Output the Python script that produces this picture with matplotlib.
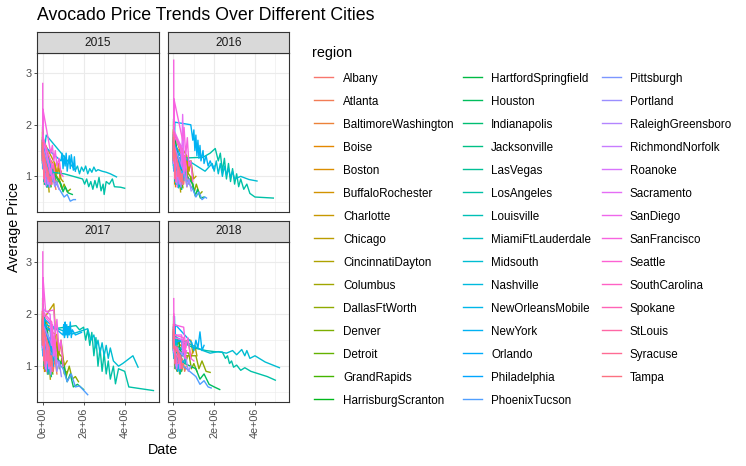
import numpy as np
import matplotlib
matplotlib.use("Agg")
import matplotlib.pyplot as plt
from matplotlib.lines import Line2D

plt.rcParams['font.family'] = ['Liberation Sans', 'DejaVu Sans']

regions = ["Albany", "Atlanta", "BaltimoreWashington", "Boise", "Boston",
           "BuffaloRochester", "Charlotte", "Chicago", "CincinnatiDayton",
           "Columbus", "DallasFtWorth", "Denver", "Detroit", "GrandRapids",
           "HarrisburgScranton", "HartfordSpringfield", "Houston", "Indianapolis",
           "Jacksonville", "LasVegas", "LosAngeles", "Louisville",
           "MiamiFtLauderdale", "Midsouth", "Nashville", "NewOrleansMobile",
           "NewYork", "Orlando", "Philadelphia", "PhoenixTucson", "Pittsburgh",
           "Portland", "RaleighGreensboro", "RichmondNorfolk", "Roanoke",
           "Sacramento", "SanDiego", "SanFrancisco", "Seattle", "SouthCarolina",
           "Spokane", "StLouis", "Syracuse", "Tampa"]
years = ["2015", "2016", "2017", "2018"]

# (volume in millions, average price), per region and year
points_2015 = {
    "Albany": [(0.002, 1.75), (0.003, 1.45), (0.004, 1.65), (0.07, 1.15), (0.08, 1.0), (0.09, 1.2), (0.11, 0.95)],
    "Atlanta": [(0.005, 1.95), (0.008, 1.55), (0.012, 1.7), (0.38, 1.0), (0.45, 0.85), (0.5, 1.05), (0.58, 0.9), (0.65, 0.75)],
    "BaltimoreWashington": [(0.01, 1.6), (0.015, 1.3), (0.02, 1.5), (0.62, 1.2), (0.7, 1.05), (0.78, 1.25), (0.85, 0.95), (0.92, 1.1)],
    "Boise": [(0.001, 1.85), (0.002, 1.4), (0.003, 1.7), (0.06, 1.05), (0.07, 0.9), (0.08, 1.1), (0.09, 0.85)],
    "Boston": [(0.006, 1.9), (0.009, 1.55), (0.012, 1.75), (0.45, 1.2), (0.52, 1.05), (0.58, 1.25), (0.66, 1.0)],
    "BuffaloRochester": [(0.003, 1.65), (0.004, 1.35), (0.005, 1.5), (0.1, 1.2), (0.12, 1.05), (0.14, 1.15), (0.16, 1.0)],
    "Charlotte": [(0.004, 1.75), (0.006, 1.5), (0.008, 1.65), (0.14, 1.15), (0.17, 1.0), (0.2, 1.2), (0.23, 0.95)],
    "Chicago": [(0.02, 1.85), (0.025, 1.5), (0.03, 1.7), (0.6, 1.25), (0.7, 1.05), (0.8, 1.15), (0.9, 0.95), (1.0, 0.9)],
    "CincinnatiDayton": [(0.008, 1.55), (0.012, 1.2), (0.015, 1.4), (0.2, 0.95), (0.24, 0.8), (0.28, 0.9), (0.32, 0.7)],
    "Columbus": [(0.004, 1.5), (0.006, 1.25), (0.008, 1.35), (0.12, 1.0), (0.15, 0.85), (0.18, 0.95), (0.2, 0.8)],
    "DallasFtWorth": [(0.01, 1.6), (0.015, 1.3), (0.02, 1.45), (0.85, 0.9), (0.95, 0.75), (1.05, 0.85), (1.2, 0.7), (1.35, 0.75)],
    "Denver": [(0.02, 1.55), (0.03, 1.25), (0.04, 1.4), (0.6, 1.0), (0.7, 0.85), (0.8, 0.95), (0.9, 0.8)],
    "Detroit": [(0.01, 1.45), (0.015, 1.2), (0.02, 1.35), (0.27, 1.0), (0.32, 0.85), (0.37, 0.95), (0.42, 0.8)],
    "GrandRapids": [(0.003, 1.6), (0.005, 1.3), (0.007, 1.5), (0.13, 1.05), (0.16, 0.9), (0.19, 1.0), (0.22, 0.85)],
    "HarrisburgScranton": [(0.005, 1.55), (0.008, 1.3), (0.01, 1.45), (0.19, 1.1), (0.23, 0.95), (0.27, 1.05), (0.3, 0.9)],
    "HartfordSpringfield": [(0.004, 1.95), (0.006, 1.6), (0.008, 1.8), (0.22, 1.25), (0.27, 1.1), (0.31, 1.2), (0.35, 1.05)],
    "Houston": [(0.01, 1.5), (0.015, 1.2), (0.02, 1.35), (0.9, 0.85), (1.0, 0.7), (1.1, 0.8), (1.25, 0.68), (1.45, 0.65)],
    "Indianapolis": [(0.004, 1.4), (0.006, 1.15), (0.008, 1.3), (0.13, 1.0), (0.16, 0.85), (0.19, 0.95), (0.21, 0.8)],
    "Jacksonville": [(0.003, 1.7), (0.005, 1.4), (0.007, 1.55), (0.12, 1.1), (0.15, 0.95), (0.18, 1.05), (0.2, 0.9)],
    "LasVegas": [(0.005, 1.6), (0.008, 1.3), (0.011, 1.45), (0.22, 1.0), (0.27, 0.85), (0.32, 0.95), (0.37, 0.8)],
    "LosAngeles": [(0.03, 1.5), (0.05, 1.2), (0.07, 1.4), (0.1, 1.1), (1.05, 1.05), (1.95, 0.95), (2.05, 0.85),
                   (2.15, 0.95), (2.25, 0.8), (2.35, 0.9), (2.45, 0.75), (2.55, 0.92), (2.65, 0.78), (2.75, 0.98),
                   (2.85, 0.72), (2.95, 0.85), (3.0, 0.65), (3.1, 0.9), (3.25, 0.85), (3.4, 0.95), (3.5, 0.8),
                   (3.8, 0.79), (4.0, 0.77)],
    "Louisville": [(0.002, 1.5), (0.003, 1.25), (0.004, 1.4), (0.07, 1.05), (0.08, 0.9), (0.09, 1.0), (0.1, 0.85)],
    "MiamiFtLauderdale": [(0.008, 1.7), (0.012, 1.4), (0.016, 1.55), (0.4, 1.15), (0.46, 1.0), (0.52, 1.1), (0.6, 0.95)],
    "Midsouth": [(0.03, 1.6), (0.06, 1.4), (0.1, 1.55), (0.18, 1.8), (1.6, 1.12), (1.7, 1.2), (1.8, 1.05),
                 (1.9, 1.18), (2.0, 1.1), (2.1, 1.2), (2.2, 1.05), (2.3, 1.15), (2.4, 1.08), (2.5, 1.18),
                 (2.6, 1.1), (2.7, 1.13), (2.9, 1.1), (3.1, 1.08), (3.3, 1.05), (3.6, 0.99)],
    "Nashville": [(0.003, 1.6), (0.005, 1.35), (0.007, 1.5), (0.14, 1.0), (0.17, 0.85), (0.2, 0.95), (0.23, 0.8)],
    "NewOrleansMobile": [(0.004, 1.55), (0.006, 1.3), (0.008, 1.45), (0.2, 1.0), (0.24, 0.85), (0.28, 0.95), (0.32, 0.8)],
    "NewYork": [(0.02, 1.7), (0.03, 1.45), (0.04, 1.6), (0.9, 1.3), (0.95, 1.45), (1.0, 1.15), (1.05, 1.4),
                (1.1, 1.2), (1.15, 1.45), (1.2, 1.1), (1.3, 1.4), (1.35, 1.15), (1.4, 1.42), (1.5, 1.12),
                (1.55, 1.38), (1.6, 1.1)],
    "Orlando": [(0.005, 1.7), (0.008, 1.45), (0.011, 1.6), (0.3, 1.1), (0.35, 0.95), (0.4, 1.05), (0.46, 0.9)],
    "Philadelphia": [(0.008, 1.75), (0.012, 1.45), (0.016, 1.6), (0.32, 1.3), (0.37, 1.15), (0.42, 1.25), (0.47, 1.1)],
    "PhoenixTucson": [(0.01, 1.4), (0.02, 1.15), (0.03, 1.3), (0.9, 0.7), (1.05, 0.6), (1.2, 0.65), (1.35, 0.52), (1.5, 0.55), (1.6, 0.55)],
    "Pittsburgh": [(0.002, 1.55), (0.003, 1.25), (0.004, 1.4), (0.09, 1.1), (0.11, 0.95), (0.13, 1.05), (0.15, 0.9)],
    "Portland": [(0.01, 1.7), (0.015, 1.4), (0.02, 1.55), (0.5, 0.95), (0.6, 0.8), (0.7, 0.9), (0.8, 0.75)],
    "RaleighGreensboro": [(0.005, 1.65), (0.008, 1.35), (0.01, 1.5), (0.2, 1.1), (0.24, 0.95), (0.28, 1.05), (0.32, 0.9)],
    "RichmondNorfolk": [(0.004, 1.6), (0.006, 1.3), (0.008, 1.45), (0.22, 1.0), (0.26, 0.85), (0.3, 0.95), (0.34, 0.8)],
    "Roanoke": [(0.002, 1.55), (0.003, 1.3), (0.004, 1.45), (0.11, 1.0), (0.13, 0.88), (0.15, 0.95), (0.17, 0.82)],
    "Sacramento": [(0.008, 1.95), (0.012, 1.6), (0.016, 1.8), (0.32, 1.2), (0.37, 1.05), (0.42, 1.15), (0.47, 1.0)],
    "SanDiego": [(0.01, 1.85), (0.015, 1.5), (0.02, 1.7), (0.4, 1.1), (0.47, 0.95), (0.54, 1.05), (0.6, 0.9)],
    "SanFrancisco": [(0.01, 2.8), (0.015, 1.9), (0.02, 2.3), (0.4, 1.45), (0.48, 1.6), (0.55, 1.3), (0.62, 1.5),
                     (0.7, 1.2), (0.8, 1.35), (0.9, 1.05), (1.0, 1.0)],
    "Seattle": [(0.01, 1.9), (0.015, 1.55), (0.02, 1.75), (0.4, 1.3), (0.46, 1.15), (0.52, 1.25), (0.58, 1.1)],
    "SouthCarolina": [(0.005, 1.7), (0.008, 1.4), (0.011, 1.55), (0.26, 1.0), (0.3, 0.9), (0.35, 0.98), (0.4, 0.85)],
    "Spokane": [(0.001, 1.7), (0.002, 1.4), (0.003, 1.55), (0.07, 1.1), (0.08, 0.95), (0.09, 1.05), (0.1, 0.9)],
    "StLouis": [(0.004, 1.65), (0.006, 1.35), (0.008, 1.5), (0.17, 1.15), (0.2, 1.0), (0.23, 1.1), (0.26, 0.95)],
    "Syracuse": [(0.001, 1.55), (0.002, 1.3), (0.003, 1.45), (0.06, 1.15), (0.07, 1.0), (0.08, 1.1), (0.09, 0.95)],
    "Tampa": [(0.005, 1.65), (0.008, 1.35), (0.011, 1.5), (0.3, 1.05), (0.35, 0.9), (0.4, 1.0), (0.45, 0.85)],
}

points_2016 = {
    "Albany": [(0.003, 1.9), (0.004, 1.5), (0.005, 1.75), (0.08, 1.35), (0.09, 1.1), (0.1, 1.25), (0.12, 1.0)],
    "Atlanta": [(0.006, 2.0), (0.009, 1.45), (0.013, 1.8), (0.42, 1.05), (0.5, 0.85), (0.56, 1.1), (0.66, 0.8)],
    "BaltimoreWashington": [(0.012, 1.75), (0.017, 1.35), (0.022, 1.6), (0.66, 1.35), (0.75, 1.1), (0.84, 1.3), (0.95, 1.0)],
    "Boise": [(0.001, 1.9), (0.002, 1.35), (0.003, 1.65), (0.065, 1.1), (0.075, 0.85), (0.085, 1.05), (0.1, 0.8)],
    "Boston": [(0.007, 2.05), (0.01, 1.6), (0.014, 1.85), (0.5, 1.3), (0.57, 1.1), (0.64, 1.35), (0.72, 1.05)],
    "BuffaloRochester": [(0.003, 1.7), (0.005, 1.3), (0.006, 1.55), (0.11, 1.25), (0.13, 1.05), (0.15, 1.2), (0.17, 1.0)],
    "Charlotte": [(0.005, 1.85), (0.007, 1.45), (0.009, 1.7), (0.16, 1.25), (0.19, 1.0), (0.22, 1.2), (0.25, 0.95)],
    "Chicago": [(0.022, 2.0), (0.028, 1.55), (0.034, 1.8), (0.65, 1.4), (0.76, 1.1), (0.86, 1.3), (0.98, 0.95), (1.1, 1.0)],
    "CincinnatiDayton": [(0.009, 1.7), (0.013, 1.25), (0.017, 1.5), (0.22, 1.0), (0.26, 0.8), (0.3, 0.95), (0.35, 0.7)],
    "Columbus": [(0.005, 1.6), (0.007, 1.25), (0.009, 1.45), (0.13, 1.05), (0.16, 0.85), (0.19, 1.0), (0.22, 0.8)],
    "DallasFtWorth": [(0.012, 1.65), (0.017, 1.25), (0.022, 1.5), (0.9, 0.95), (1.02, 0.7), (1.12, 0.85), (1.28, 0.65), (1.4, 0.7)],
    "Denver": [(0.022, 1.7), (0.032, 1.3), (0.042, 1.5), (0.65, 1.1), (0.76, 0.85), (0.86, 1.0), (0.97, 0.75)],
    "Detroit": [(0.011, 1.55), (0.016, 1.2), (0.022, 1.4), (0.3, 1.05), (0.35, 0.85), (0.4, 1.0), (0.46, 0.78)],
    "GrandRapids": [(0.004, 1.75), (0.006, 1.3), (0.008, 1.55), (0.14, 1.15), (0.17, 0.9), (0.2, 1.05), (0.24, 0.85)],
    "HarrisburgScranton": [(0.006, 1.65), (0.009, 1.3), (0.012, 1.5), (0.21, 1.15), (0.25, 0.95), (0.29, 1.1), (0.33, 0.9)],
    "HartfordSpringfield": [(0.005, 2.1), (0.007, 1.65), (0.009, 1.9), (0.24, 1.35), (0.29, 1.1), (0.33, 1.25), (0.38, 1.05)],
    "Houston": [(0.011, 1.55), (0.016, 1.15), (0.022, 1.35), (0.95, 0.85), (1.07, 0.62), (1.18, 0.75), (1.32, 0.58), (1.5, 0.6)],
    "Indianapolis": [(0.005, 1.5), (0.007, 1.15), (0.009, 1.35), (0.14, 1.05), (0.17, 0.85), (0.2, 1.0), (0.23, 0.8)],
    "Jacksonville": [(0.004, 1.8), (0.006, 1.4), (0.008, 1.6), (0.13, 1.2), (0.16, 0.95), (0.19, 1.1), (0.22, 0.9)],
    "LasVegas": [(0.006, 1.7), (0.009, 1.25), (0.012, 1.5), (0.24, 1.05), (0.29, 0.8), (0.34, 0.95), (0.4, 0.75)],
    "LosAngeles": [(0.08, 1.5), (0.12, 1.2), (0.15, 1.35), (1.45, 1.37), (1.8, 1.45), (2.05, 1.54), (2.2, 1.3),
                   (2.3, 1.45), (2.4, 1.1), (2.5, 1.35), (2.6, 0.95), (2.7, 1.25), (2.8, 0.9), (2.9, 1.15),
                   (3.0, 0.85), (3.1, 1.05), (3.2, 0.8), (3.3, 0.95), (3.45, 0.75), (3.6, 0.85), (3.75, 0.67),
                   (4.0, 0.6), (4.9, 0.58)],
    "Louisville": [(0.002, 1.6), (0.003, 1.2), (0.004, 1.45), (0.075, 1.1), (0.085, 0.9), (0.1, 1.05), (0.11, 0.85)],
    "MiamiFtLauderdale": [(0.009, 1.8), (0.013, 1.4), (0.018, 1.6), (0.44, 1.2), (0.5, 1.0), (0.56, 1.15), (0.64, 0.95)],
    "Midsouth": [(0.05, 1.55), (0.1, 1.3), (0.15, 1.45), (1.55, 1.1), (1.9, 1.25), (2.0, 1.1), (2.1, 1.3),
                 (2.2, 1.05), (2.3, 1.25), (2.4, 1.0), (2.5, 1.2), (2.6, 1.02), (2.7, 1.15), (2.8, 0.98),
                 (2.9, 1.1), (3.0, 0.95), (3.3, 1.0), (3.7, 0.94), (4.1, 0.91)],
    "Nashville": [(0.004, 1.7), (0.006, 1.3), (0.008, 1.5), (0.15, 1.05), (0.18, 0.85), (0.21, 1.0), (0.25, 0.78)],
    "NewOrleansMobile": [(0.005, 1.65), (0.007, 1.25), (0.009, 1.45), (0.22, 1.05), (0.26, 0.85), (0.3, 1.0), (0.35, 0.8)],
    "NewYork": [(0.03, 2.0), (0.05, 1.7), (0.07, 2.05), (0.85, 2.0), (0.95, 1.7), (1.0, 1.9), (1.05, 1.5),
                (1.1, 1.8), (1.15, 1.4), (1.2, 1.7), (1.25, 1.35), (1.3, 1.6), (1.35, 1.3), (1.45, 1.5),
                (1.5, 1.25), (1.6, 1.4), (1.7, 1.2), (1.8, 1.3), (1.95, 1.15), (2.0, 1.2)],
    "Orlando": [(0.006, 1.8), (0.009, 1.4), (0.012, 1.65), (0.32, 1.2), (0.37, 0.98), (0.43, 1.1), (0.5, 0.92)],
    "Philadelphia": [(0.009, 1.85), (0.013, 1.45), (0.018, 1.65), (0.35, 1.4), (0.4, 1.15), (0.45, 1.3), (0.5, 1.1)],
    "PhoenixTucson": [(0.012, 1.5), (0.022, 1.1), (0.032, 1.3), (0.95, 0.75), (1.1, 0.6), (1.25, 0.7), (1.4, 0.55), (1.55, 0.6), (1.62, 0.58)],
    "Pittsburgh": [(0.002, 1.65), (0.003, 1.25), (0.004, 1.45), (0.1, 1.15), (0.12, 0.95), (0.14, 1.1), (0.16, 0.9)],
    "Portland": [(0.012, 1.85), (0.017, 1.35), (0.022, 1.6), (0.55, 1.05), (0.66, 0.8), (0.76, 0.95), (0.87, 0.72)],
    "RaleighGreensboro": [(0.006, 1.75), (0.009, 1.35), (0.011, 1.55), (0.22, 1.2), (0.26, 0.95), (0.3, 1.1), (0.35, 0.9)],
    "RichmondNorfolk": [(0.005, 1.7), (0.007, 1.3), (0.009, 1.5), (0.24, 1.05), (0.28, 0.85), (0.32, 1.0), (0.37, 0.8)],
    "Roanoke": [(0.002, 1.65), (0.003, 1.25), (0.004, 1.5), (0.12, 1.05), (0.14, 0.88), (0.16, 1.0), (0.18, 0.8)],
    "Sacramento": [(0.009, 2.1), (0.013, 1.6), (0.018, 1.9), (0.35, 1.6), (0.4, 1.2), (0.45, 2.2), (0.52, 1.1), (0.6, 1.35)],
    "SanDiego": [(0.011, 2.0), (0.016, 1.5), (0.022, 1.8), (0.43, 1.45), (0.5, 1.05), (0.58, 1.3), (0.66, 0.95)],
    "SanFrancisco": [(0.012, 3.25), (0.017, 1.95), (0.022, 2.5), (0.45, 1.7), (0.52, 1.95), (0.6, 1.4), (0.68, 1.75),
                     (0.76, 1.2), (0.85, 1.3), (0.95, 0.9)],
    "Seattle": [(0.011, 2.05), (0.016, 1.6), (0.022, 1.85), (0.43, 1.5), (0.5, 1.2), (0.56, 1.4), (0.63, 1.1)],
    "SouthCarolina": [(0.006, 1.85), (0.009, 1.4), (0.012, 1.65), (0.28, 1.1), (0.33, 0.9), (0.38, 1.05), (0.43, 0.85)],
    "Spokane": [(0.001, 1.85), (0.002, 1.4), (0.003, 1.65), (0.075, 1.2), (0.085, 0.95), (0.1, 1.1), (0.11, 0.9)],
    "StLouis": [(0.005, 1.8), (0.007, 1.35), (0.009, 1.6), (0.18, 1.25), (0.21, 1.0), (0.25, 1.15), (0.28, 0.95)],
    "Syracuse": [(0.001, 1.7), (0.002, 1.3), (0.003, 1.5), (0.065, 1.25), (0.075, 1.0), (0.085, 1.15), (0.1, 0.95)],
    "Tampa": [(0.006, 1.75), (0.009, 1.35), (0.012, 1.55), (0.32, 1.1), (0.37, 0.9), (0.43, 1.05), (0.48, 0.85)],
}

points_2017 = {
    "Albany": [(0.003, 2.1), (0.004, 1.6), (0.005, 1.9), (0.08, 1.6), (0.09, 1.2), (0.1, 1.45), (0.12, 1.1)],
    "Atlanta": [(0.006, 2.2), (0.01, 1.5), (0.014, 1.9), (0.45, 1.25), (0.52, 0.9), (0.6, 1.15), (0.7, 0.85)],
    "BaltimoreWashington": [(0.012, 2.0), (0.018, 1.45), (0.024, 1.75), (0.7, 1.6), (0.8, 1.2), (0.9, 1.45), (1.0, 1.1)],
    "Boise": [(0.001, 2.05), (0.002, 1.5), (0.003, 1.8), (0.07, 1.3), (0.08, 0.95), (0.09, 1.15), (0.1, 0.9)],
    "Boston": [(0.008, 2.25), (0.011, 1.7), (0.015, 2.0), (0.52, 1.55), (0.6, 1.2), (0.68, 1.45), (0.78, 1.1)],
    "BuffaloRochester": [(0.003, 1.9), (0.005, 1.4), (0.006, 1.65), (0.11, 1.45), (0.13, 1.1), (0.15, 1.3), (0.17, 1.05)],
    "Charlotte": [(0.005, 2.05), (0.007, 1.55), (0.009, 1.8), (0.17, 1.45), (0.2, 1.1), (0.23, 1.3), (0.27, 1.0)],
    "Chicago": [(0.024, 2.2), (0.03, 1.6), (0.036, 1.9), (0.55, 2.2), (0.65, 1.5), (0.78, 1.25), (0.9, 1.5), (1.05, 1.0), (1.2, 1.1)],
    "CincinnatiDayton": [(0.01, 1.9), (0.014, 1.35), (0.018, 1.6), (0.24, 1.2), (0.28, 0.85), (0.33, 1.05), (0.38, 0.75)],
    "Columbus": [(0.005, 1.75), (0.007, 1.3), (0.009, 1.55), (0.14, 1.2), (0.17, 0.9), (0.2, 1.1), (0.24, 0.85)],
    "DallasFtWorth": [(0.013, 1.85), (0.018, 1.3), (0.024, 1.6), (1.0, 1.15), (1.15, 0.8), (1.3, 1.0), (1.45, 0.75), (1.6, 0.8), (1.75, 0.7)],
    "Denver": [(0.024, 1.9), (0.034, 1.4), (0.044, 1.65), (0.7, 1.35), (0.82, 0.95), (0.94, 1.15), (1.06, 0.85), (1.2, 0.9)],
    "Detroit": [(0.012, 1.75), (0.017, 1.3), (0.023, 1.5), (0.32, 1.3), (0.38, 0.95), (0.44, 1.15), (0.5, 0.85)],
    "GrandRapids": [(0.004, 1.95), (0.006, 1.4), (0.008, 1.7), (0.15, 1.4), (0.18, 1.0), (0.22, 1.2), (0.26, 0.95)],
    "HarrisburgScranton": [(0.006, 1.85), (0.009, 1.4), (0.012, 1.65), (0.22, 1.45), (0.27, 1.05), (0.31, 1.3), (0.36, 1.0)],
    "HartfordSpringfield": [(0.005, 2.3), (0.007, 1.75), (0.009, 2.05), (0.25, 1.65), (0.3, 1.25), (0.35, 1.5), (0.4, 1.2)],
    "Houston": [(0.012, 1.7), (0.017, 1.2), (0.023, 1.45), (1.05, 1.0), (1.2, 0.7), (1.35, 0.85), (1.5, 0.6), (1.7, 0.65), (2.0, 0.55)],
    "Indianapolis": [(0.005, 1.7), (0.007, 1.25), (0.009, 1.45), (0.15, 1.3), (0.18, 0.95), (0.21, 1.15), (0.25, 0.9)],
    "Jacksonville": [(0.004, 2.0), (0.006, 1.5), (0.008, 1.75), (0.14, 1.45), (0.17, 1.05), (0.2, 1.25), (0.24, 1.0)],
    "LasVegas": [(0.006, 1.9), (0.009, 1.35), (0.012, 1.65), (0.26, 1.3), (0.31, 0.9), (0.37, 1.1), (0.43, 0.8)],
    "LosAngeles": [(0.1, 1.9), (0.15, 1.5), (0.2, 1.7), (1.63, 1.78), (1.8, 1.7), (2.0, 1.75), (2.1, 1.5),
                   (2.2, 1.7), (2.3, 1.4), (2.4, 1.65), (2.5, 1.2), (2.6, 1.55), (2.7, 1.0), (2.8, 1.35),
                   (2.9, 0.9), (3.0, 1.25), (3.1, 0.85), (3.2, 1.1), (3.3, 0.75), (3.45, 1.0), (3.55, 0.66),
                   (3.7, 0.95), (4.0, 0.9), (4.2, 0.6), (5.4, 0.53)],
    "Louisville": [(0.002, 1.8), (0.003, 1.3), (0.004, 1.55), (0.08, 1.35), (0.09, 1.0), (0.1, 1.2), (0.12, 0.95)],
    "MiamiFtLauderdale": [(0.01, 2.0), (0.014, 1.5), (0.019, 1.75), (0.46, 1.45), (0.53, 1.1), (0.6, 1.3), (0.68, 1.05)],
    "Midsouth": [(0.06, 1.9), (0.1, 1.6), (0.14, 1.8), (1.45, 1.62), (2.2, 1.72), (2.35, 1.5), (2.5, 1.6),
                 (2.6, 1.35), (2.7, 1.5), (2.8, 1.25), (2.9, 1.45), (3.0, 1.2), (3.1, 1.4), (3.2, 1.15),
                 (3.3, 1.35), (3.45, 1.1), (3.7, 1.0), (3.9, 1.05), (4.4, 1.2), (4.65, 0.98)],
    "Nashville": [(0.004, 1.9), (0.006, 1.4), (0.008, 1.65), (0.16, 1.3), (0.19, 0.95), (0.23, 1.15), (0.27, 0.85)],
    "NewOrleansMobile": [(0.005, 1.85), (0.007, 1.35), (0.009, 1.6), (0.23, 1.3), (0.27, 0.95), (0.32, 1.15), (0.37, 0.85)],
    "NewYork": [(0.05, 2.1), (0.08, 1.6), (0.1, 1.9), (1.0, 1.6), (1.03, 1.8), (1.07, 1.55), (1.1, 1.85),
                (1.14, 1.6), (1.18, 1.8), (1.22, 1.55), (1.26, 1.75), (1.3, 1.6), (1.35, 1.85), (1.4, 1.55),
                (1.45, 1.7), (1.6, 1.6), (1.9, 1.65)],
    "Orlando": [(0.006, 2.0), (0.009, 1.5), (0.012, 1.8), (0.34, 1.45), (0.4, 1.1), (0.46, 1.3), (0.53, 1.0)],
    "Philadelphia": [(0.01, 2.05), (0.014, 1.55), (0.019, 1.8), (0.37, 1.7), (0.42, 1.3), (0.48, 1.55), (0.54, 1.2)],
    "PhoenixTucson": [(0.013, 1.7), (0.023, 1.2), (0.034, 1.45), (1.0, 0.95), (1.2, 0.7), (1.4, 0.85), (1.6, 0.6), (1.8, 0.62), (2.2, 0.45)],
    "Pittsburgh": [(0.002, 1.85), (0.003, 1.35), (0.004, 1.6), (0.1, 1.4), (0.12, 1.05), (0.14, 1.25), (0.17, 1.0)],
    "Portland": [(0.013, 2.05), (0.018, 1.5), (0.023, 1.8), (0.58, 1.3), (0.7, 0.9), (0.8, 1.1), (0.92, 0.8)],
    "RaleighGreensboro": [(0.006, 1.95), (0.009, 1.45), (0.012, 1.7), (0.23, 1.45), (0.28, 1.05), (0.32, 1.25), (0.37, 0.95)],
    "RichmondNorfolk": [(0.005, 1.9), (0.007, 1.4), (0.009, 1.65), (0.25, 1.3), (0.3, 0.95), (0.34, 1.15), (0.39, 0.85)],
    "Roanoke": [(0.002, 1.85), (0.003, 1.35), (0.004, 1.6), (0.12, 1.3), (0.15, 0.95), (0.17, 1.15), (0.19, 0.9)],
    "Sacramento": [(0.01, 2.4), (0.014, 1.8), (0.019, 2.1), (0.37, 2.0), (0.43, 1.4), (0.49, 1.8), (0.56, 1.2), (0.64, 1.5)],
    "SanDiego": [(0.012, 2.3), (0.017, 1.7), (0.023, 2.0), (0.45, 1.8), (0.53, 1.2), (0.6, 1.5), (0.7, 1.05)],
    "SanFrancisco": [(0.013, 3.2), (0.018, 2.2), (0.024, 2.7), (0.15, 2.05), (0.55, 2.08), (0.62, 1.6), (0.7, 1.9),
                     (0.8, 1.3), (0.9, 1.5), (1.0, 1.0)],
    "Seattle": [(0.012, 2.3), (0.017, 1.75), (0.023, 2.05), (0.45, 1.85), (0.52, 1.35), (0.59, 1.6), (0.66, 1.2)],
    "SouthCarolina": [(0.006, 2.05), (0.009, 1.5), (0.012, 1.8), (0.3, 1.35), (0.35, 1.0), (0.4, 1.2), (0.46, 0.9)],
    "Spokane": [(0.001, 2.05), (0.002, 1.5), (0.003, 1.8), (0.08, 1.5), (0.09, 1.1), (0.1, 1.3), (0.12, 1.0)],
    "StLouis": [(0.005, 2.0), (0.007, 1.45), (0.009, 1.75), (0.19, 1.5), (0.22, 1.1), (0.26, 1.3), (0.3, 1.0)],
    "Syracuse": [(0.001, 1.9), (0.002, 1.4), (0.003, 1.65), (0.07, 1.5), (0.08, 1.1), (0.09, 1.3), (0.1, 1.05)],
    "Tampa": [(0.006, 1.95), (0.009, 1.45), (0.012, 1.7), (0.34, 1.35), (0.39, 1.0), (0.45, 1.2), (0.5, 0.9)],
}

points_2018 = {
    "Albany": [(0.003, 1.7), (0.004, 1.4), (0.08, 1.45), (0.09, 1.2), (0.1, 1.3)],
    "Atlanta": [(0.006, 1.8), (0.01, 1.45), (0.48, 1.1), (0.55, 0.9), (0.62, 1.0)],
    "BaltimoreWashington": [(0.013, 1.6), (0.018, 1.35), (0.75, 1.45), (0.85, 1.15), (0.95, 1.3)],
    "Boise": [(0.001, 1.7), (0.002, 1.35), (0.07, 1.15), (0.08, 0.95), (0.09, 1.05)],
    "Boston": [(0.008, 1.85), (0.012, 1.5), (0.55, 1.35), (0.62, 1.1), (0.7, 1.2)],
    "BuffaloRochester": [(0.003, 1.6), (0.005, 1.3), (0.12, 1.3), (0.14, 1.05), (0.16, 1.15)],
    "Charlotte": [(0.005, 1.75), (0.008, 1.4), (0.18, 1.35), (0.21, 1.05), (0.24, 1.2)],
    "Chicago": [(0.025, 1.8), (0.032, 1.45), (0.85, 1.5), (0.95, 1.25), (1.05, 1.4), (1.15, 1.2)],
    "CincinnatiDayton": [(0.01, 1.6), (0.015, 1.25), (0.26, 1.05), (0.3, 0.85), (0.34, 0.95)],
    "Columbus": [(0.005, 1.55), (0.008, 1.25), (0.15, 1.1), (0.18, 0.9), (0.21, 1.0)],
    "DallasFtWorth": [(0.014, 1.55), (0.02, 1.2), (1.1, 1.2), (1.25, 0.95), (1.4, 1.1), (1.6, 0.9), (1.8, 0.88)],
    "Denver": [(0.025, 1.65), (0.035, 1.3), (0.75, 1.25), (0.88, 0.95), (1.0, 1.05), (1.15, 0.9)],
    "Detroit": [(0.013, 1.5), (0.018, 1.2), (0.34, 1.15), (0.4, 0.9), (0.46, 1.0)],
    "GrandRapids": [(0.004, 1.65), (0.006, 1.3), (0.16, 1.3), (0.19, 1.0), (0.23, 1.1)],
    "HarrisburgScranton": [(0.006, 1.6), (0.009, 1.3), (0.24, 1.3), (0.28, 1.05), (0.32, 1.15)],
    "HartfordSpringfield": [(0.005, 1.95), (0.008, 1.55), (0.27, 1.5), (0.32, 1.2), (0.36, 1.35)],
    "Houston": [(0.013, 1.5), (0.018, 1.15), (1.1, 0.95), (1.3, 0.75), (1.5, 0.85), (1.75, 0.65), (2.0, 0.6), (2.27, 0.55)],
    "Indianapolis": [(0.005, 1.5), (0.008, 1.2), (0.16, 1.15), (0.19, 0.95), (0.22, 1.05)],
    "Jacksonville": [(0.004, 1.75), (0.006, 1.4), (0.15, 1.3), (0.18, 1.05), (0.21, 1.15)],
    "LasVegas": [(0.007, 1.65), (0.01, 1.3), (0.28, 1.1), (0.33, 0.85), (0.38, 0.95)],
    "LosAngeles": [(0.12, 1.6), (0.18, 1.4), (0.22, 1.5), (1.0, 1.35), (1.6, 1.3), (2.0, 1.28), (2.4, 1.27),
                   (2.55, 1.15), (2.65, 1.2), (2.75, 1.05), (2.85, 1.1), (2.95, 0.98), (3.1, 1.02), (3.3, 0.92),
                   (3.5, 0.97), (3.8, 0.9), (4.2, 0.85), (4.6, 0.8), (5.0, 0.73)],
    "Louisville": [(0.002, 1.55), (0.003, 1.25), (0.085, 1.2), (0.095, 0.95), (0.11, 1.05)],
    "MiamiFtLauderdale": [(0.01, 1.75), (0.015, 1.4), (0.5, 1.3), (0.57, 1.05), (0.64, 1.15)],
    "Midsouth": [(0.08, 1.7), (0.12, 1.4), (0.16, 1.55), (1.45, 1.3), (1.8, 1.25), (2.2, 1.28), (2.6, 1.25),
                 (2.9, 1.3), (3.1, 1.22), (3.35, 1.32), (3.5, 1.2), (3.6, 1.3), (3.75, 1.15), (4.0, 1.2),
                 (4.5, 1.08), (5.2, 0.97)],
    "Nashville": [(0.004, 1.65), (0.007, 1.3), (0.17, 1.1), (0.2, 0.9), (0.24, 1.0)],
    "NewOrleansMobile": [(0.005, 1.6), (0.008, 1.25), (0.25, 1.1), (0.29, 0.9), (0.34, 1.0)],
    "NewYork": [(0.05, 1.95), (0.07, 1.6), (0.09, 1.8), (0.9, 1.45), (1.0, 1.3), (1.1, 1.5), (1.2, 1.35),
                (1.3, 1.66), (1.4, 1.3), (1.5, 1.4)],
    "Orlando": [(0.006, 1.75), (0.01, 1.4), (0.36, 1.25), (0.42, 1.0), (0.48, 1.1)],
    "Philadelphia": [(0.01, 1.8), (0.015, 1.45), (0.4, 1.5), (0.45, 1.2), (0.5, 1.3)],
    "PhoenixTucson": [(0.014, 1.45), (0.025, 1.15), (1.1, 0.8), (1.3, 0.65), (1.5, 0.72), (1.7, 0.6), (1.85, 0.58)],
    "Pittsburgh": [(0.002, 1.6), (0.003, 1.3), (0.11, 1.25), (0.13, 1.0), (0.15, 1.1)],
    "Portland": [(0.014, 1.75), (0.02, 1.4), (0.62, 1.15), (0.73, 0.9), (0.85, 1.0)],
    "RaleighGreensboro": [(0.006, 1.7), (0.009, 1.35), (0.25, 1.3), (0.29, 1.05), (0.34, 1.15)],
    "RichmondNorfolk": [(0.005, 1.65), (0.008, 1.3), (0.27, 1.15), (0.31, 0.95), (0.36, 1.05)],
    "Roanoke": [(0.002, 1.6), (0.003, 1.3), (0.13, 1.15), (0.15, 0.95), (0.18, 1.05)],
    "Sacramento": [(0.01, 2.0), (0.015, 1.6), (0.4, 1.6), (0.46, 1.25), (0.52, 1.4), (0.6, 1.15)],
    "SanDiego": [(0.012, 1.95), (0.018, 1.55), (0.48, 1.5), (0.56, 1.15), (0.64, 1.3)],
    "SanFrancisco": [(0.013, 2.3), (0.019, 1.8), (0.5, 1.75), (0.6, 1.35), (0.7, 1.55), (0.85, 1.15), (1.0, 1.1)],
    "Seattle": [(0.012, 2.0), (0.018, 1.6), (0.48, 1.55), (0.55, 1.25), (0.62, 1.4)],
    "SouthCarolina": [(0.006, 1.8), (0.01, 1.4), (0.32, 1.2), (0.37, 0.95), (0.42, 1.05)],
    "Spokane": [(0.001, 1.8), (0.002, 1.45), (0.085, 1.35), (0.1, 1.05), (0.11, 1.2)],
    "StLouis": [(0.005, 1.75), (0.008, 1.4), (0.2, 1.35), (0.24, 1.05), (0.28, 1.2)],
    "Syracuse": [(0.001, 1.65), (0.002, 1.35), (0.075, 1.35), (0.085, 1.05), (0.1, 1.2)],
    "Tampa": [(0.006, 1.7), (0.01, 1.35), (0.36, 1.2), (0.42, 0.95), (0.48, 1.05)],
}

data_by_year = {"2015": points_2015, "2016": points_2016,
                "2017": points_2017, "2018": points_2018}


def hue_palette(n, l=65, c=100, h0=15):
    # ggplot2-style evenly spaced HCL hues
    hues = np.radians((h0 + 360 * np.arange(n) / n) % 360)
    xn, yn, zn = 95.047, 100.0, 108.883
    un = 4 * xn / (xn + 15 * yn + 3 * zn)
    vn = 9 * yn / (xn + 15 * yn + 3 * zn)
    y = np.full(n, yn * ((l + 16) / 116) ** 3)
    up = c * np.cos(hues) / (13 * l) + un
    vp = c * np.sin(hues) / (13 * l) + vn
    x = 9 * y * up / (4 * vp)
    z = y * (12 - 3 * up - 20 * vp) / (4 * vp)
    m = np.array([[3.2404542, -1.5371385, -0.4985314],
                  [-0.9692660, 1.8760108, 0.0415560],
                  [0.0556434, -0.2040259, 1.0572252]])
    rgb = (m @ np.vstack([x, y, z]) / 100).T
    rgb = np.clip(rgb, 0, 1)
    rgb = np.where(rgb <= 0.0031308, 12.92 * rgb, 1.055 * rgb ** (1 / 2.4) - 0.055)
    return np.clip(rgb, 0, 1)


colors = hue_palette(len(regions))

W, H = 746, 466
fig = plt.figure(figsize=(W / 100, H / 100), dpi=100)


def frac(x0, y0, x1, y1):
    return [x0 / W, 1 - y1 / H, (x1 - x0) / W, (y1 - y0) / H]


panel_px = {"2015": (37, 53, 159, 212), "2016": (168, 53, 289, 212),
            "2017": (37, 242, 159, 402), "2018": (168, 242, 289, 402)}

all_x = [p[0] for d in data_by_year.values() for pts in d.values() for p in pts]
all_y = [p[1] for d in data_by_year.values() for pts in d.values() for p in pts]
xr = (max(all_x) - min(all_x)) * 1e6
yr = max(all_y) - min(all_y)
xlim = (min(all_x) * 1e6 - 0.05 * xr, max(all_x) * 1e6 + 0.05 * xr)
ylim = (min(all_y) - 0.05 * yr, max(all_y) + 0.05 * yr)

grey20 = "#333333"
grey30 = "#4D4D4D"
grid_col = "#EBEBEB"

for yr_lab in years:
    x0, y0, x1, y1 = panel_px[yr_lab]
    ax = fig.add_axes(frac(x0, y0, x1, y1))
    ax.set_xlim(xlim)
    ax.set_ylim(ylim)
    ax.set_xticks([0, 2e6, 4e6])
    ax.set_xticks([1e6, 3e6, 5e6], minor=True)
    ax.set_yticks([1, 2, 3])
    ax.set_yticks([0.5, 1.5, 2.5], minor=True)
    ax.grid(True, which="major", color=grid_col, lw=0.8)
    ax.grid(True, which="minor", color=grid_col, lw=0.4)
    ax.set_axisbelow(True)
    for s in ax.spines.values():
        s.set_color(grey20)
        s.set_linewidth(0.8)
    ax.tick_params(which="minor", length=0)
    ax.tick_params(which="major", length=2.5, width=0.6, color=grey20,
                   labelcolor=grey30, labelsize=7.8, pad=1.5)

    if yr_lab in ("2015", "2017"):
        ax.set_yticklabels(["1", "2", "3"])
    else:
        ax.tick_params(axis="y", length=0, labelleft=False)
    if yr_lab in ("2017", "2018"):
        ax.set_xticklabels(["0e+00", "2e+06", "4e+06"], rotation=90)
    else:
        ax.tick_params(axis="x", length=0, labelbottom=False)

    pts_by_region = data_by_year[yr_lab]
    for reg, col in zip(regions, colors):
        pts = sorted(pts_by_region[reg])
        xs = np.array([p[0] for p in pts]) * 1e6
        ys = [p[1] for p in pts]
        ax.plot(xs, ys, color=col, lw=1.0, solid_joinstyle="round")

    # facet strip
    sax = fig.add_axes(frac(x0, y0 - 21, x1, y0))
    sax.set_facecolor("#D9D9D9")
    sax.set_xticks([])
    sax.set_yticks([])
    for s in sax.spines.values():
        s.set_color(grey20)
        s.set_linewidth(0.8)
    sax.text(0.5, 0.5, yr_lab, ha="center", va="center", fontsize=8.6,
             color="#1A1A1A", transform=sax.transAxes)

# titles
fig.text(37 / W, 1 - 19.5 / H, "Avocado Price Trends Over Different Cities",
         fontsize=12.8, ha="left", va="baseline", color="black")
fig.text((37 + 289) / 2 / W, 1 - 453.5 / H, "Date", fontsize=10.3,
         ha="center", va="baseline")
fig.text(18 / W, 1 - 227.5 / H, "Average Price", fontsize=10.3, rotation=90,
         rotation_mode="anchor", ha="center", va="baseline")

# legend
fig.text(312 / W, 1 - 57 / H, "region", fontsize=10.4, ha="left", va="baseline")
col_key_x = [314, 463, 602]
col_text_x = [343, 491, 630]
nrow = 15
for i, (reg, col) in enumerate(zip(regions, colors)):
    c, r = divmod(i, nrow)
    yk = 1 - (77 + 23 * r) / H
    fig.add_artist(Line2D([col_key_x[c] / W, (col_key_x[c] + 19) / W], [yk, yk],
                          color=col, lw=1.0, transform=fig.transFigure))
    fig.text(col_text_x[c] / W, 1 - (82 + 23 * r) / H, reg, fontsize=8.4,
             ha="left", va="baseline", color="black")

fig.savefig("out.png", dpi=100)
